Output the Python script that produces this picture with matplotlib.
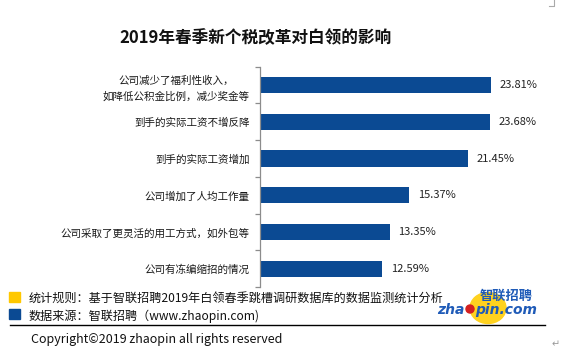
import matplotlib
matplotlib.use("Agg")
import matplotlib.pyplot as plt
from matplotlib import patches, lines

plt.rcParams['font.family'] = ['Noto Sans CJK SC', 'DejaVu Sans']

# data (top to bottom)
categories = ["公司减少了福利性收入，\n如降低公积金比例，减少奖金等",
              "到手的实际工资不增反降",
              "到手的实际工资增加",
              "公司增加了人均工作量",
              "公司采取了更灵活的用工方式，如外包等",
              "公司有冻编缩招的情况"]
values = [23.81, 23.68, 21.45, 15.37, 13.35, 12.59]
value_labels = ["23.81%", "23.68%", "21.45%", "15.37%", "13.35%", "12.59%"]

title = "2019年春季新个税改革对白领的影响"
note_rule = "统计规则：基于智联招聘2019年白领春季跳槽调研数据库的数据监测统计分析"
note_source = "数据来源：智联招聘（www.zhaopin.com)"
copyright_text = "Copyright©2019 zhaopin all rights reserved"

bar_color = "#0B4A93"
yellow = "#FFC800"

W, H = 562, 353
fig = plt.figure(figsize=(W / 100, H / 100), dpi=100)

def fx(x):
    return x / W

def fy(y):
    return 1 - y / H

# axes placed in pixel coordinates
ax_left, ax_right, ax_top, ax_bottom = 260, 545, 66.6, 287.2
ax = fig.add_axes([fx(ax_left), fy(ax_bottom), fx(ax_right - ax_left), (ax_bottom - ax_top) / H])

ypos = list(range(len(categories)))
ax.barh(ypos, values, height=0.44, color=bar_color)
ax.set_xlim(0, (ax_right - ax_left) / 9.72)
ax.set_ylim(len(categories) - 0.5, -0.5)

for y, v, lab in zip(ypos, values, value_labels):
    ax.annotate(lab, (v, y), xytext=(6, 0), textcoords="offset points",
                va="center", ha="left", fontsize=8, color="#222222")

for s in ["top", "right", "bottom"]:
    ax.spines[s].set_visible(False)
ax.spines["left"].set_color("#8c8c8c")
ax.spines["left"].set_linewidth(0.9)
ax.set_xticks([])
ax.set_yticks(ypos)
ax.set_yticklabels(categories, fontsize=7.6, color="#1a1a1a")
ax.tick_params(axis="y", which="major", length=0, pad=7.5)
ax.set_yticks([i - 0.5 for i in range(len(categories) + 1)], minor=True)
ax.tick_params(axis="y", which="minor", length=3.5, color="#8c8c8c", width=0.9)
first = ax.get_yticklabels()[0]
first.set_multialignment("center")
first.set_linespacing(1.65)

# title
fig.text(fx(255), fy(38), title, ha="center", va="center", fontsize=12, fontweight="bold", color="#111111")

# footer notes
fig.patches.append(patches.Rectangle((fx(9), fy(302)), 11 / W, 10 / H, transform=fig.transFigure,
                                     color=yellow, figure=fig))
fig.patches.append(patches.Rectangle((fx(9), fy(319)), 11 / W, 10 / H, transform=fig.transFigure,
                                     color=bar_color, figure=fig))
fig.text(fx(29), fy(298), note_rule, ha="left", va="center", fontsize=8.7, color="#111111")
fig.text(fx(29), fy(316), note_source, ha="left", va="center", fontsize=8.7, color="#111111")
fig.lines.append(lines.Line2D([fx(10), fx(545)], [fy(325), fy(325)], transform=fig.transFigure,
                              color="black", linewidth=1.0))
fig.text(fx(31), fy(340), copyright_text, ha="left", va="center", fontsize=9, color="#111111")
fig.text(fx(556), fy(344), "↵", ha="center", va="center", fontsize=7, color="#999999",
         family="DejaVu Sans")

# zhaopin logo
fig.patches.append(patches.Ellipse((fx(488), fy(308)), 36 / W, 31 / H, transform=fig.transFigure,
                                   color="#FFD21F", figure=fig))
logo_blue = "#1F5BB8"
fig.text(fx(506), fy(296), "智联招聘", ha="center", va="center", fontsize=9.5, fontweight="bold",
         style="italic", color=logo_blue)
fig.text(fx(465), fy(310), "zha", ha="right", va="center", fontsize=10, fontweight="bold",
         style="italic", color=logo_blue, family="DejaVu Sans")
fig.patches.append(patches.Ellipse((fx(470), fy(309)), 8 / W, 8 / H, transform=fig.transFigure,
                                   color="#D42020", figure=fig))
fig.text(fx(475), fy(310), "pin.com", ha="left", va="center", fontsize=10, fontweight="bold",
         style="italic", color=logo_blue, family="DejaVu Sans")

# small corner mark top right
fig.lines.append(lines.Line2D([fx(549), fx(554), fx(554)], [fy(6), fy(6), fy(0)],
                              transform=fig.transFigure, color="#aaaaaa", linewidth=0.8))

fig.savefig("out.png", dpi=100)
